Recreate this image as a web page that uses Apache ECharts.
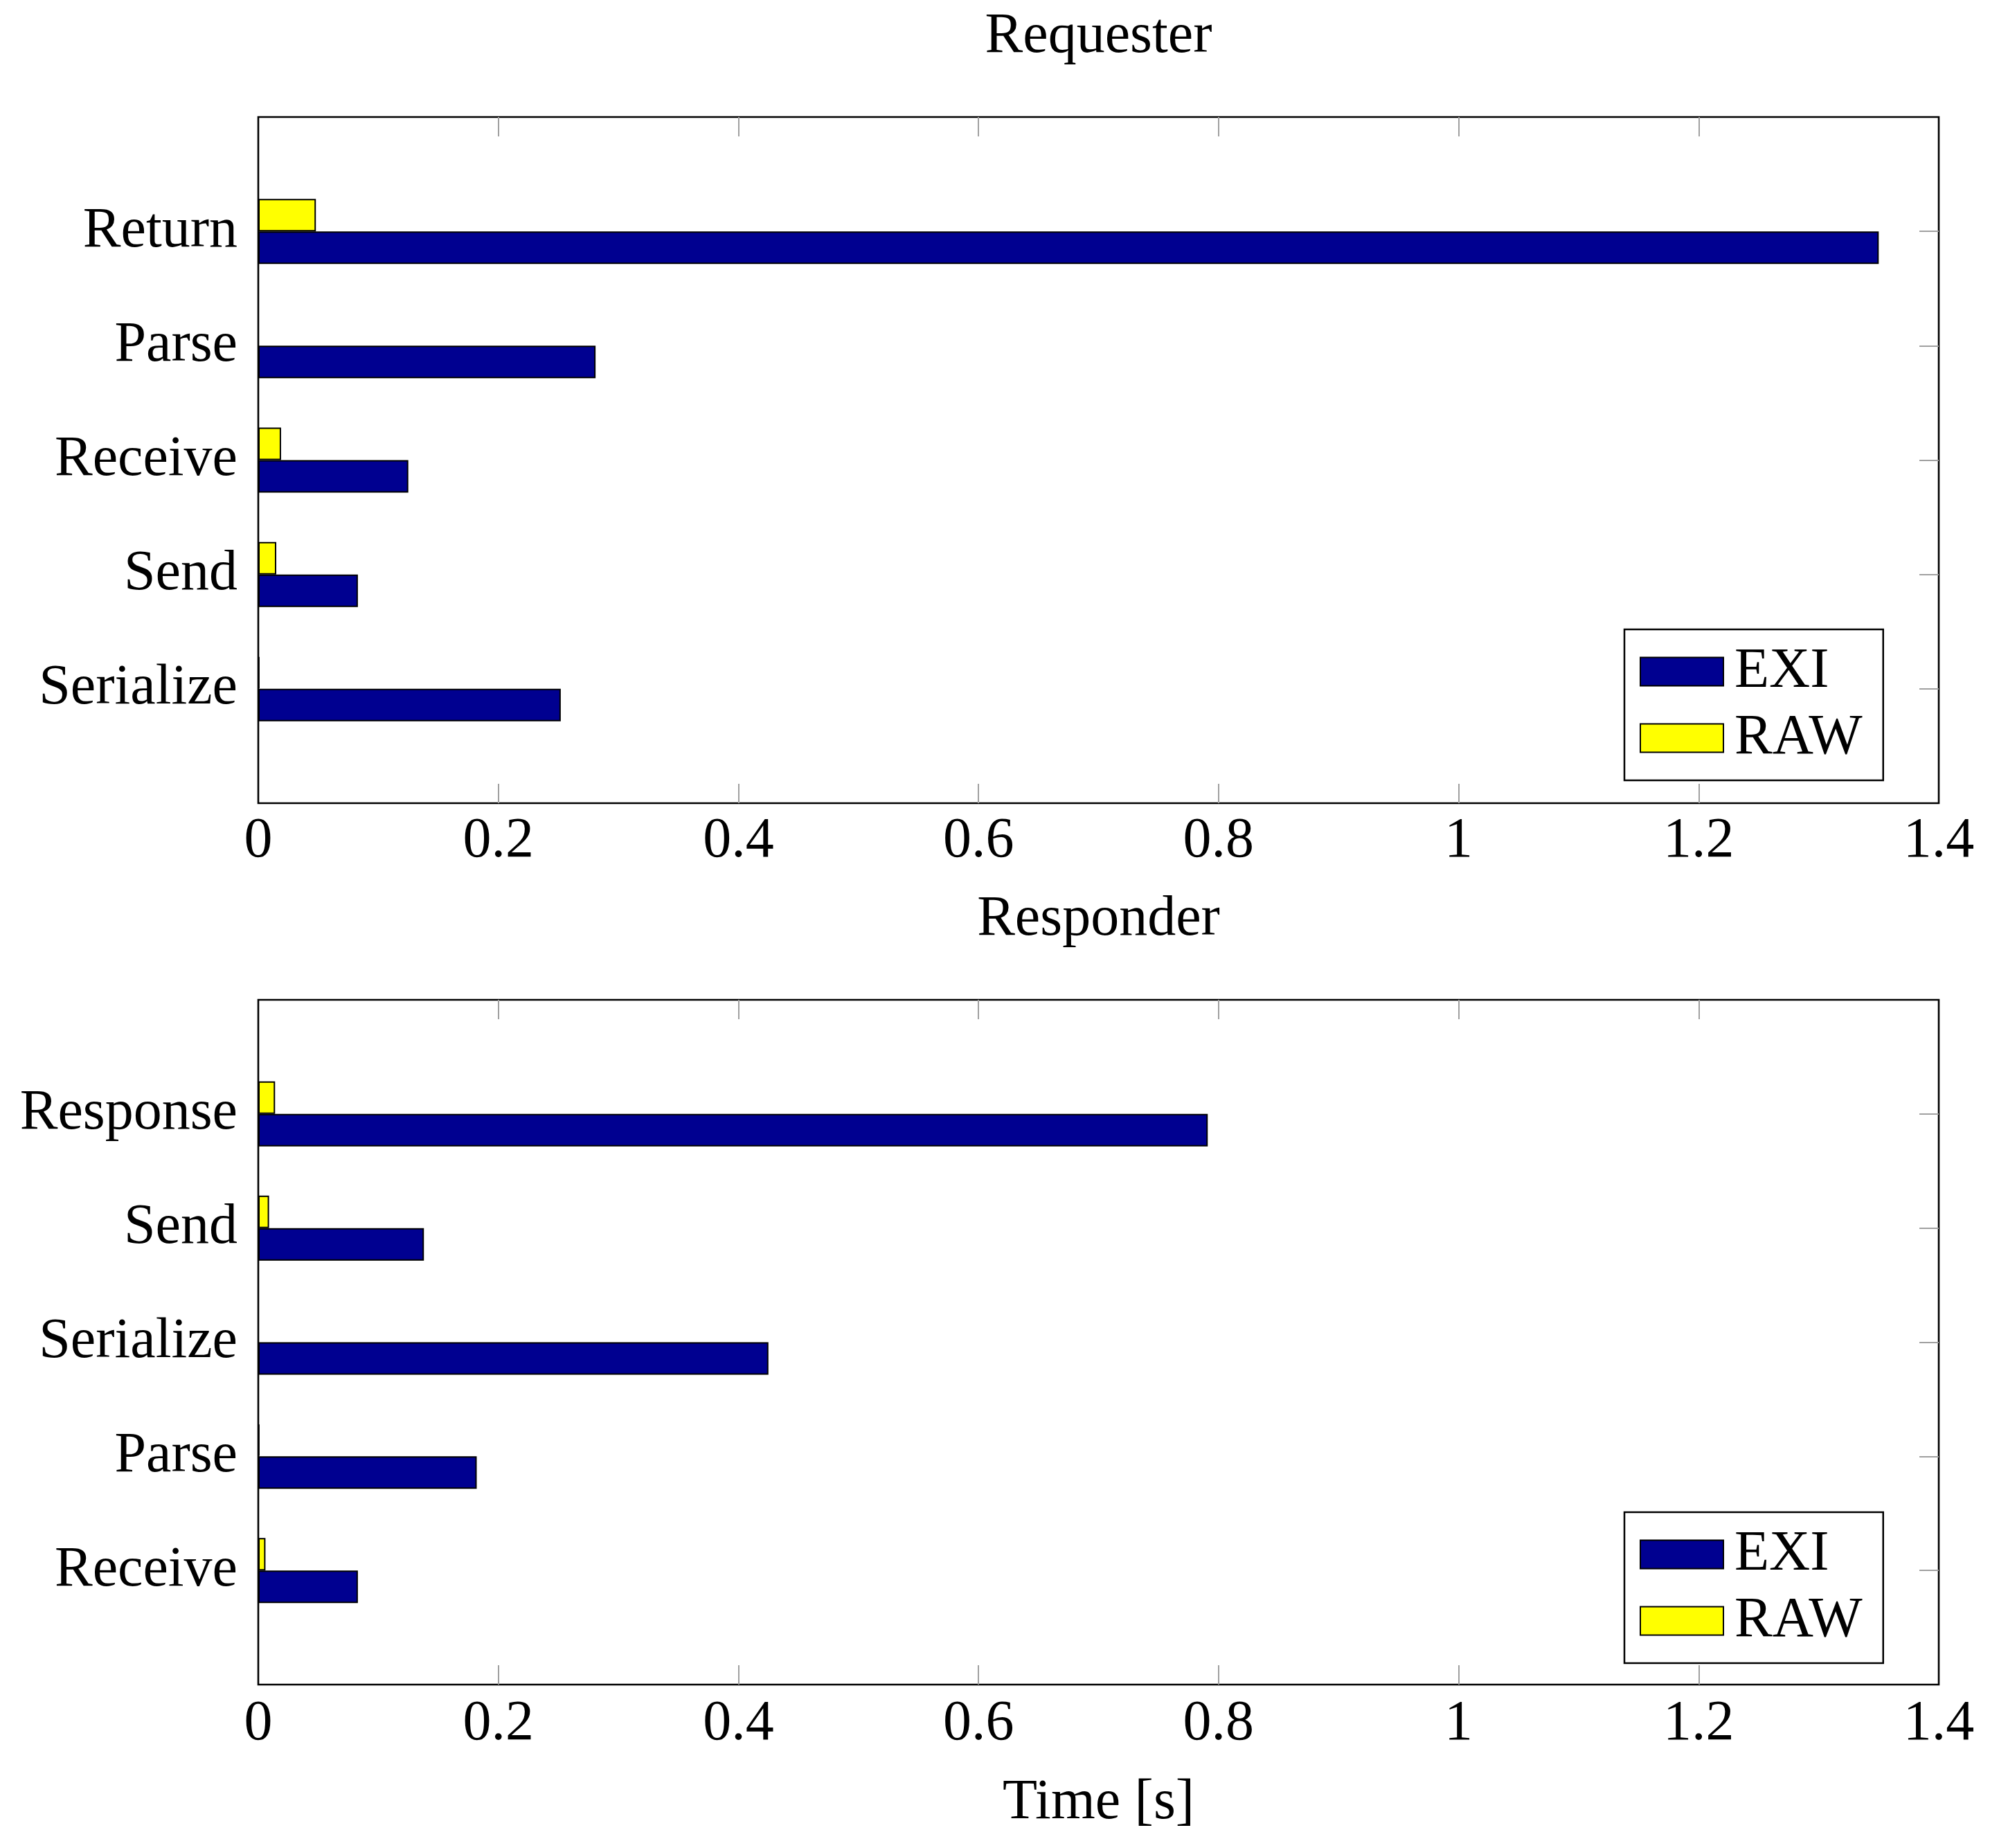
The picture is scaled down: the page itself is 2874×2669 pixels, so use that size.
<!DOCTYPE html>
<html>
<head>
<meta charset="utf-8">
<script src="https://cdn.jsdelivr.net/npm/echarts@6/dist/echarts.min.js"></script>
<style>
html, body { margin: 0; padding: 0; background: #ffffff; }
#chart { width: 2874px; height: 2669px; }
</style>
</head>
<body>
<div id="chart"></div>
<script>
// ---- Data (categories listed bottom to top, as ECharts draws a y category axis) ----
const reqCategories = ['Serialize', 'Send', 'Receive', 'Parse', 'Return'];
const reqEXI = [0.252, 0.083, 0.125, 0.281, 1.350];
const reqRAW = [0.001, 0.015, 0.019, null, 0.048];

const respCategories = ['Receive', 'Parse', 'Serialize', 'Send', 'Response'];
const respEXI = [0.083, 0.182, 0.425, 0.138, 0.791];
const respRAW = [0.006, 0.001, null, 0.009, 0.014];

const xTicks = [0, 0.2, 0.4, 0.6, 0.8, 1, 1.2, 1.4];
const seriesNames = ['EXI', 'RAW'];

// ---- Style ----
const FONT = 'Liberation Serif';
const FS = 82;
const EXI_COLOR = '#000090';
const RAW_COLOR = '#ffff00';
const TICK_COLOR = '#a0a0a0';

const padCat = a => ['', ...a, ''];
const padVal = a => [null, ...a, null];
const innerTicks = xTicks.slice(1, -1);

function xAxisPair(gridIndex, title, bottomName) {
  const base = {
    type: 'value', gridIndex: gridIndex,
    min: xTicks[0], max: xTicks[xTicks.length - 1], interval: xTicks[1] - xTicks[0],
    axisLine: { show: false, onZero: false },
    splitLine: { show: false },
    axisTick: { show: true, inside: true, length: 28, customValues: innerTicks,
                lineStyle: { color: TICK_COLOR, width: 2 } }
  };
  const bottom = Object.assign({}, base, {
    position: 'bottom',
    axisLabel: { show: true, fontFamily: FONT, fontSize: FS, color: '#000', margin: gridIndex === 0 ? 14 : 16 },
  });
  if (bottomName) {
    Object.assign(bottom, {
      name: bottomName, nameLocation: 'middle', nameGap: 130,
      nameTextStyle: { fontFamily: FONT, fontSize: FS, color: '#000' }
    });
  }
  const top = Object.assign({}, base, {
    position: 'top',
    axisLabel: { show: false },
    name: title, nameLocation: 'middle', nameGap: 75,
    nameTextStyle: { fontFamily: FONT, fontSize: FS, color: '#000' }
  });
  return [bottom, top];
}

function yAxisPair(gridIndex, cats) {
  const data = padCat(cats);
  const n = data.length;
  const left = {
    type: 'category', gridIndex: gridIndex, position: 'left', data: data, boundaryGap: false,
    axisLine: { show: false, onZero: false }, axisTick: { show: false }, splitLine: { show: false },
    axisLabel: { show: true, interval: 0, fontFamily: FONT, fontSize: FS, color: '#000', margin: 30 }
  };
  const right = {
    type: 'category', gridIndex: gridIndex, position: 'right', data: data, boundaryGap: false,
    axisLine: { show: false, onZero: false }, splitLine: { show: false }, axisLabel: { show: false },
    axisTick: { show: true, inside: true, length: 28,
                interval: (i) => i > 0 && i < n - 1,
                lineStyle: { color: TICK_COLOR, width: 2 } }
  };
  return [left, right];
}

function barSeries(name, data, color, xi, yi) {
  return {
    type: 'bar', name: name, xAxisIndex: xi, yAxisIndex: yi,
    data: padVal(data), barWidth: 47, barGap: '0%',
    itemStyle: { color: color, borderColor: '#000', borderWidth: 2 },
    emphasis: { disabled: true }
  };
}

function legendAt(top) {
  return {
    left: 2346, top: top, orient: 'vertical', data: seriesNames,
    icon: 'rect', itemWidth: 120, itemHeight: 41, itemGap: 14,
    padding: [20, 30, 20, 22],
    borderColor: '#000', borderWidth: 2.5, backgroundColor: '#fff',
    selectedMode: false,
    textStyle: { fontFamily: FONT, fontSize: FS, color: '#000', padding: [0, 0, 0, 11] }
  };
}

const gridStyle = { show: true, borderColor: '#000', borderWidth: 2.6, backgroundColor: 'transparent',
                    outerBoundsMode: 'none', containLabel: false };

const option = {
  animation: false,
  backgroundColor: '#ffffff',
  textStyle: { fontFamily: FONT },
  grid: [
    Object.assign({ left: 373, top: 169, width: 2427, height: 991 }, gridStyle),
    Object.assign({ left: 373, top: 1444, width: 2427, height: 989 }, gridStyle)
  ],
  xAxis: [...xAxisPair(0, 'Requester', null), ...xAxisPair(1, 'Responder', 'Time [s]')],
  yAxis: [...yAxisPair(0, reqCategories), ...yAxisPair(1, respCategories)],
  legend: [legendAt(909), legendAt(2184)],
  series: [
    barSeries('RAW', reqRAW, RAW_COLOR, 0, 0),
    barSeries('EXI', reqEXI, EXI_COLOR, 0, 0),
    barSeries('RAW', respRAW, RAW_COLOR, 2, 2),
    barSeries('EXI', respEXI, EXI_COLOR, 2, 2)
  ]
};

const chart = echarts.init(document.getElementById('chart'), null, { renderer: 'canvas' });
chart.setOption(option);
</script>
</body>
</html>
